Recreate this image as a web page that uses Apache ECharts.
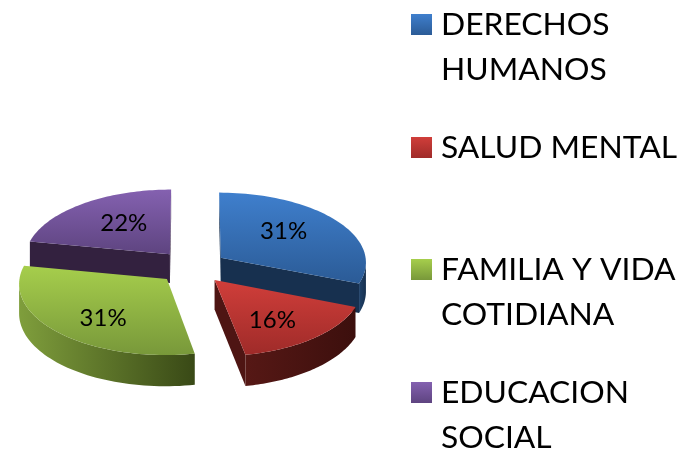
<!DOCTYPE html>
<html><head><meta charset="utf-8">
<style>html,body{margin:0;padding:0;background:#fff}#c{width:685px;height:451px}</style>
<script src="https://cdn.jsdelivr.net/npm/echarts@6/dist/echarts.min.js"></script>
</head><body><div id="c"></div>
<script>
const categories = ['DERECHOS HUMANOS', 'SALUD MENTAL', 'FAMILIA Y VIDA COTIDIANA', 'EDUCACION SOCIAL'];
const legendLines = [['DERECHOS', 'HUMANOS'], ['SALUD MENTAL'], ['FAMILIA Y VIDA', 'COTIDIANA'], ['EDUCACION', 'SOCIAL']];
const values = [31, 16, 31, 22];
const topColors = [['#3f7fcd', '#2b5b96'], ['#d03e3a', '#9f2b29'], ['#a6ce4c', '#78983a'], ['#8461b0', '#5e4480']];
const cutColors = ['#17304f', '#4e1513', '#4e6024', '#33213f'];
const rimColors = [['#1f4169', '#17304f'], ['#561815', '#3c0f0d'], ['#7f9e3c', '#394916'], ['#3d2a4c', '#33213f']];

const legendTop = [14, 137, 259, 382];
const labelNudge = [[-7, -4], [-1, 6], [1, 8], [7, 0]];
const FONT = 'Lato, "Open Sans", sans-serif';
const cx = 192, cy = 267, rx = 146, ry = 70, explode = 0.24, persp = 0.06, depth = 29;
const total = values.reduce((a, b) => a + b, 0);

function project(X, Y, drop) {
  const s = 1 / (1 + persp * Y);
  return [cx + rx * X * s, cy - ry * Y * s + (drop ? depth * s : 0)];
}
function sliceAngles(i) {
  let acc = 0;
  for (let k = 0; k < i; k++) acc += values[k];
  return [acc / total * 2 * Math.PI, (acc + values[i]) / total * 2 * Math.PI];
}
function grad(c, horizontal) {
  return new echarts.graphic.LinearGradient(0, 0, horizontal ? 1 : 0, horizontal ? 0 : 1,
    [{ offset: 0, color: c[0] }, { offset: 1, color: c[1] }]);
}
function renderItem(params, api) {
  const i = params.dataIndex;
  const [a0, a1] = sliceAngles(i);
  const mid = (a0 + a1) / 2;
  const ox = explode * Math.sin(mid), oy = explode * Math.cos(mid);
  const at = (a, r) => [ox + r * Math.sin(a), oy + r * Math.cos(a)];
  const n = 60, rim = [];
  for (let k = 0; k <= n; k++) rim.push(at(a0 + (a1 - a0) * k / n, 1));
  const apex = [ox, oy];
  const pTop = p => project(p[0], p[1], false);
  const pLow = p => project(p[0], p[1], true);
  const order = Math.round(10 - 5 * Math.cos(mid));
  const children = [];
  const cut = (p, q) => {
    if (pTop(q)[0] < pTop(p)[0] - 0.01)
      children.push({ type: 'polygon', z2: order, shape: { points: [pTop(p), pTop(q), pLow(q), pLow(p)] }, style: { fill: cutColors[i] } });
  };
  cut(apex, rim[0]);
  cut(rim[n], apex);
  let run = [];
  const flush = () => {
    if (run.length > 1) {
      const pts = run.map(pTop).concat(run.slice().reverse().map(pLow));
      children.push({ type: 'polygon', z2: order, shape: { points: pts }, style: { fill: grad(rimColors[i], true) } });
    }
    run = [];
  };
  for (let k = 0; k < n; k++) {
    if (pTop(rim[k + 1])[0] < pTop(rim[k])[0]) {
      if (!run.length) run.push(rim[k]);
      run.push(rim[k + 1]);
    } else flush();
  }
  flush();
  children.push({
    type: 'polygon', z2: order + 1,
    shape: { points: [apex].concat(rim).map(pTop) },
    style: { fill: grad(topColors[i], false) }
  });
  const lab = pTop(at(mid, 0.6));
  children.push({
    type: 'text', z2: 50,
    style: { text: api.value(0) + '%', x: lab[0] + labelNudge[i][0], y: lab[1] + labelNudge[i][1], align: 'center', verticalAlign: 'middle', font: '24px ' + FONT, fill: '#000' }
  });
  return { type: 'group', children };
}

const legendGraphics = [];
categories.forEach((name, i) => {
  legendGraphics.push({
    type: 'rect', left: 411, top: legendTop[i], shape: { width: 21, height: 21 },
    style: { fill: grad(topColors[i], false) }
  });
  legendGraphics.push({
    type: 'text', left: 441, top: legendTop[i] - 12,
    style: { text: legendLines[i].join('\n'), font: '31.8px ' + FONT, lineHeight: 45, fill: '#000' }
  });
});

const chart = echarts.init(document.getElementById('c'), null, { renderer: 'canvas' });
chart.setOption({
  animation: false,
  backgroundColor: '#ffffff',
  graphic: legendGraphics,
  series: [{
    type: 'custom',
    coordinateSystem: 'none',
    silent: true,
    renderItem,
    data: values.map((v, i) => ({ name: categories[i], value: [v] }))
  }]
});
</script></body></html>
